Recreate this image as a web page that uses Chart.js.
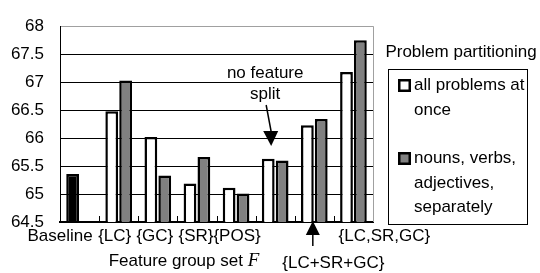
<!DOCTYPE html>
<html>
<head>
<meta charset="utf-8">
<script src="https://cdn.jsdelivr.net/npm/chart.js@4.4.1/dist/chart.umd.min.js"></script>
<style>
html,body{margin:0;padding:0;background:#fff;}
#wrap{width:540px;height:273px;position:relative;}
</style>
</head>
<body>
<div id="wrap"><canvas id="c" width="540" height="273"></canvas></div>
<script>
// ---- data ----
const categories = ['Baseline', '{LC}', '{GC}', '{SR}', '{POS}', 'no feature split', '{LC+SR+GC}', '{LC,SR,GC}'];
const allAtOnce  = [65.36, 66.48, 66.02, 65.19, 65.11, 65.63, 66.23, 67.18];
const separately = [null,  67.03, 65.33, 65.66, 65.01, 65.60, 66.34, 67.75];
const seriesNames = ['all problems at once', 'nouns, verbs, adjectives, separately'];
const legendLines = [['all problems at', 'once'], ['nouns, verbs,', 'adjectives,', 'separately']];
const legendTitle = 'Problem partitioning';
const xTitle = 'Feature group set ';
const xTitleVar = 'F';
const yMin = 64.5, yMax = 68, yStep = 0.5;

const FONT = '"Liberation Sans", Arial, sans-serif';

const drawPlugin = {
  id: 'extras',
  afterDraw(chart) {
    const ctx = chart.ctx;
    const a = chart.chartArea;
    const xs = chart.scales.x;
    ctx.save();
    // right border (gray)
    ctx.strokeStyle = '#a0a0a0';
    ctx.lineWidth = 1;
    ctx.beginPath();
    ctx.moveTo(a.right + 0.5, a.top);
    ctx.lineTo(a.right + 0.5, a.bottom);
    ctx.stroke();
    // x tick marks at category boundaries (inside)
    ctx.strokeStyle = '#000';
    ctx.lineWidth = 1;
    for (let i = 1; i < categories.length; i++) {
      const x = Math.round((xs.getPixelForValue(i - 1) + xs.getPixelForValue(i)) / 2) + 0.5;
      ctx.beginPath();
      ctx.moveTo(x, a.bottom);
      ctx.lineTo(x, a.bottom - 6);
      ctx.stroke();
    }
    // category labels
    ctx.fillStyle = '#000';
    ctx.font = '17px ' + FONT;
    ctx.textAlign = 'center';
    ctx.textBaseline = 'middle';
    const labOff = [-19.5, -4, -3, -1, 1, 0, 19, 31];
    const labY   = [236, 236, 236, 236, 236, null, 263, 236];
    categories.forEach((c, i) => {
      if (labY[i] === null) return;
      ctx.fillText(c, xs.getPixelForValue(i) + labOff[i], labY[i]);
    });
    // x axis title with italic F
    ctx.font = '17px ' + FONT;
    const w1 = ctx.measureText(xTitle).width;
    ctx.font = 'italic 19px "Liberation Serif", "Times New Roman", serif';
    const w2 = ctx.measureText(xTitleVar).width;
    const tx = 184 - (w1 + w2) / 2;
    ctx.textAlign = 'left';
    ctx.font = '17px ' + FONT;
    ctx.fillText(xTitle, tx, 261);
    ctx.font = 'italic 19px "Liberation Serif", "Times New Roman", serif';
    ctx.fillText(xTitleVar, tx + w1, 261);

    // "no feature split" annotation
    const nfx = xs.getPixelForValue(5);
    ctx.font = '17px ' + FONT;
    ctx.textAlign = 'center';
    ctx.fillText('no feature', nfx - 10, 73);
    ctx.fillText('split', nfx - 10, 94);
    ctx.beginPath();
    ctx.moveTo(nfx - 9, 105);
    ctx.lineTo(nfx - 4, 132);
    ctx.lineWidth = 1.5;
    ctx.stroke();
    ctx.beginPath();
    ctx.moveTo(nfx - 12, 131);
    ctx.lineTo(nfx + 3, 131);
    ctx.lineTo(nfx - 4, 146);
    ctx.closePath();
    ctx.fill();

    // {LC+SR+GC} arrow up
    const ax = xs.getPixelForValue(6) - 1.5;
    ctx.beginPath();
    ctx.moveTo(ax - 7, 235);
    ctx.lineTo(ax + 7, 235);
    ctx.lineTo(ax, 221);
    ctx.closePath();
    ctx.fill();
    ctx.beginPath();
    ctx.moveTo(ax, 234);
    ctx.lineTo(ax, 246);
    ctx.lineWidth = 1.5;
    ctx.stroke();

    // legend
    ctx.textAlign = 'center';
    ctx.font = '17px ' + FONT;
    ctx.fillText(legendTitle, 461, 52);
    ctx.lineWidth = 1;
    ctx.strokeStyle = '#000';
    ctx.strokeRect(388.5, 69.5, 139, 155);
    const sqY = [79, 152];
    const lineY = [[85, 110], [158, 183, 207]];
    const fills = ['#ffffff', '#808080'];
    ctx.textAlign = 'left';
    for (let s = 0; s < 2; s++) {
      ctx.fillStyle = fills[s];
      ctx.fillRect(398, sqY[s], 13, 13);
      ctx.lineWidth = 2.5;
      ctx.strokeStyle = '#000';
      ctx.strokeRect(399.25, sqY[s] + 1.25, 10.5, 10.5);
      ctx.fillStyle = '#000';
      legendLines[s].forEach((t, k) => ctx.fillText(t, 414, lineY[s][k]));
    }
    ctx.restore();
  }
};

new Chart(document.getElementById('c'), {
  type: 'bar',
  data: {
    labels: categories,
    datasets: [
      {
        label: seriesNames[0],
        data: allAtOnce,
        backgroundColor: c => c.dataIndex === 0 ? '#000000' : '#ffffff',
        borderColor: '#000',
        borderWidth: 2.5,
        categoryPercentage: 0.71,
        barPercentage: 0.92
      },
      {
        label: seriesNames[1],
        data: separately,
        backgroundColor: '#808080',
        borderColor: '#000',
        borderWidth: 2.5,
        categoryPercentage: 0.71,
        barPercentage: 0.92
      }
    ]
  },
  options: {
    responsive: false,
    animation: false,
    devicePixelRatio: 1,
    layout: { padding: { left: 0, top: 17, right: 167, bottom: 0 } },
    plugins: { legend: { display: false }, tooltip: { enabled: false } },
    scales: {
      x: {
        grid: { display: false },
        border: { display: true, color: '#000', width: 2 },
        ticks: { display: false },
        afterFit: s => { s.height = 51; }
      },
      y: {
        min: yMin, max: yMax,
        ticks: {
          stepSize: yStep, color: '#000', padding: 16,
          font: { family: FONT, size: 17 },
          callback: v => String(Number(v.toFixed(1)))
        },
        grid: {
          drawTicks: false,
          color: c => (c.tick && c.tick.value === yMax) ? '#a0a0a0' : '#000',
          lineWidth: 1
        },
        border: { display: true, color: '#000', width: 1 },
        afterFit: s => { s.width = 60; }
      }
    }
  },
  plugins: [drawPlugin]
});
</script>
</body>
</html>
